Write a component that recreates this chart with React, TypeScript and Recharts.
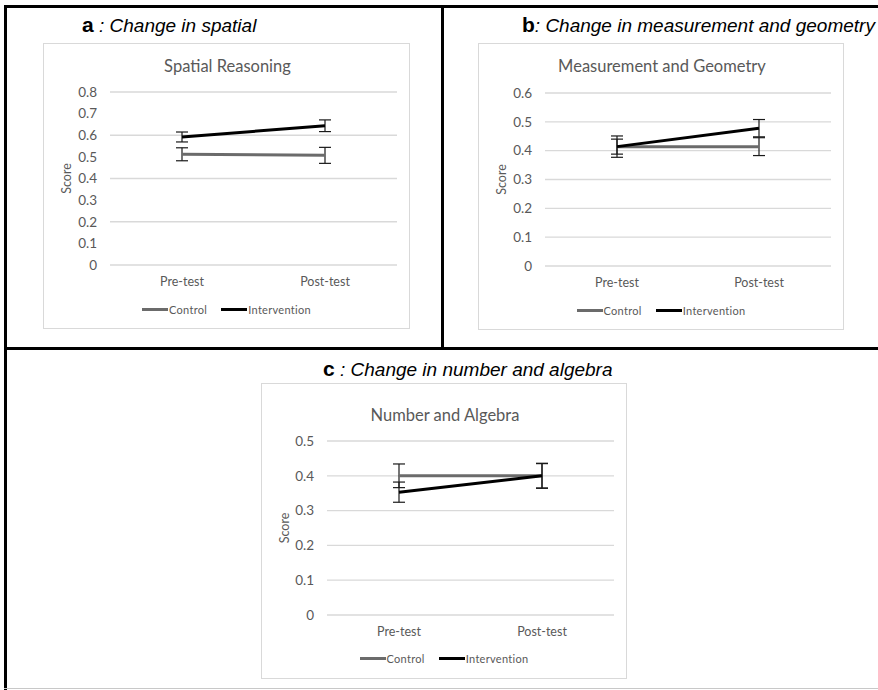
import React from 'react';
import { LineChart, Line, XAxis, YAxis, CartesianGrid, ErrorBar, Legend } from 'recharts';

const categories = ['Pre-test', 'Post-test'];

const spatialControl = [0.512, 0.507];
const spatialControlErr = [0.03, 0.037];
const spatialIntervention = [0.592, 0.644];
const spatialInterventionErr = [0.023, 0.027];
const spatialTicks = [0, 0.1, 0.2, 0.3, 0.4, 0.5, 0.6, 0.7, 0.8];

const measControl = [0.414, 0.414];
const measControlErr = [0.026, 0.031];
const measIntervention = [0.414, 0.478];
const measInterventionErr = [0.037, 0.03];
const measTicks = [0, 0.1, 0.2, 0.3, 0.4, 0.5, 0.6];

const algControl = [0.4, 0.4];
const algControlErr = [0.034, 0.036];
const algIntervention = [0.353, 0.4];
const algInterventionErr = [0.029, 0.035];
const algTicks = [0, 0.1, 0.2, 0.3, 0.4, 0.5];

const seriesNames = ['Control', 'Intervention'];

const GRID = '#d9d9d9';
const TEXT = '#595959';
const CONTROL = '#6b6b6b';
const INTERVENTION = '#000000';
const CHART_FONT = 'Lato, "Open Sans", sans-serif';
const TITLE_FONT = '"Liberation Sans", Arial, sans-serif';

interface Box { left: number; top: number; w: number; h: number; }
interface Plot { left: number; right: number; top: number; bottom: number; }

interface PanelProps {
  letter: string;
  heading: string;
  headingX: number;
  headingY: number;
  chartTitle: string;
  box: Box;
  plot: Plot;
  titleY: number;
  legendY: number;
  ticks: number[];
  control: number[];
  controlErr: number[];
  intervention: number[];
  interventionErr: number[];
}

const LegendContent = () => (
  <div style={{ display: 'flex', justifyContent: 'center', alignItems: 'center', fontFamily: CHART_FONT, fontSize: 11, color: TEXT, letterSpacing: 0.3 }}>
    <span style={{ display: 'inline-block', width: 26, height: 3, background: CONTROL }} />
    <span style={{ marginLeft: 1, marginRight: 14 }}>{seriesNames[0]}</span>
    <span style={{ display: 'inline-block', width: 26, height: 3, background: INTERVENTION }} />
    <span style={{ marginLeft: 1 }}>{seriesNames[1]}</span>
  </div>
);

const Panel: React.FC<PanelProps> = (p) => {
  const data = categories.map((c, i) => ({
    cat: c,
    control: p.control[i],
    controlErr: p.controlErr[i],
    intervention: p.intervention[i],
    interventionErr: p.interventionErr[i],
  }));
  const { box, plot } = p;
  const yAxisW = plot.left - box.left;
  const xAxisH = 30;
  const margin = {
    top: plot.top - box.top,
    right: box.left + box.w - plot.right,
    left: 0,
    bottom: box.top + box.h - plot.bottom - xAxisH,
  };
  const scoreX = box.left + 25;
  const midY = (plot.top + plot.bottom) / 2;

  return (
    <>
      <div style={{ position: 'absolute', left: p.headingX, top: p.headingY - 12, fontFamily: TITLE_FONT, color: '#000', whiteSpace: 'nowrap', lineHeight: '24px' }}>
        <span style={{ fontWeight: 'bold', fontSize: 21 }}>{p.letter}</span>
        <span style={{ fontStyle: 'italic', fontSize: 19 }}>{p.heading}</span>
      </div>
      <div style={{ position: 'absolute', left: box.left, top: box.top, width: box.w, height: box.h, boxSizing: 'border-box', border: `1px solid ${GRID}`, background: '#fff' }}>
        <div style={{ position: 'absolute', left: 0, width: box.w, top: p.titleY - box.top - 11, textAlign: 'center', fontFamily: CHART_FONT, fontSize: 16.5, color: TEXT, lineHeight: '22px' }}>
          {p.chartTitle}
        </div>
        <div style={{ position: 'absolute', left: -1, top: -1 }}>
          <LineChart width={box.w} height={box.h} data={data} margin={margin}>
            <CartesianGrid vertical={false} stroke={GRID} strokeWidth={1.3} />
            <XAxis
              dataKey="cat"
              height={xAxisH}
              axisLine={false}
              tickLine={false}
              tickSize={6}
              tickMargin={6}
              padding={{ left: 72, right: 72 }}
              tick={{ fill: TEXT, fontSize: 12.5, fontFamily: CHART_FONT }}
              interval={0}
            />
            <YAxis
              width={yAxisW}
              domain={[0, p.ticks[p.ticks.length - 1]]}
              ticks={p.ticks}
              axisLine={false}
              tickLine={false}
              tickSize={6}
              tickMargin={7}
              tick={{ fill: TEXT, fontSize: 13.5, fontFamily: CHART_FONT }}
              label={{
                content: () => (
                  <text x={scoreX - box.left} y={midY - box.top} transform={`rotate(-90 ${scoreX - box.left} ${midY - box.top})`} textAnchor="middle" dominantBaseline="middle" fill={TEXT} fontSize={12.5} fontFamily={CHART_FONT}>
                    Score
                  </text>
                ),
              }}
            />
            <Legend
              layout="vertical"
              align="center"
              verticalAlign="middle"
              content={LegendContent}
              wrapperStyle={{ left: 0, width: box.w, top: p.legendY - box.top - 8, height: 16 }}
            />
            <Line name={seriesNames[0]} type="linear" dataKey="control" stroke={CONTROL} strokeWidth={3} dot={false} isAnimationActive={false}>
              <ErrorBar dataKey="controlErr" width={6} strokeWidth={1.2} stroke="#1a1a1a" direction="y" isAnimationActive={false} />
            </Line>
            <Line name={seriesNames[1]} type="linear" dataKey="intervention" stroke={INTERVENTION} strokeWidth={3} dot={false} isAnimationActive={false}>
              <ErrorBar dataKey="interventionErr" width={6} strokeWidth={1.2} stroke="#1a1a1a" direction="y" isAnimationActive={false} />
            </Line>
          </LineChart>
        </div>
      </div>
    </>
  );
};

export default function App() {
  return (
    <div style={{ position: 'absolute', left: 0, top: 0, width: 878, height: 690, background: '#fff', overflow: 'hidden' }}>
      {/* frame lines */}
      <div style={{ position: 'absolute', left: 4, top: 5, width: 880, height: 3, background: '#000' }} />
      <div style={{ position: 'absolute', left: 4, top: 5, width: 3, height: 690, background: '#000' }} />
      <div style={{ position: 'absolute', left: 441, top: 5, width: 2.5, height: 344, background: '#000' }} />
      <div style={{ position: 'absolute', left: 4, top: 347, width: 880, height: 3, background: '#000' }} />
      <div style={{ position: 'absolute', left: 4, top: 688, width: 880, height: 1, background: '#c8c8c8' }} />

      <Panel
        letter="a"
        heading=" : Change in spatial"
        headingX={82}
        headingY={25}
        chartTitle="Spatial Reasoning"
        box={{ left: 43, top: 43, w: 367, h: 286 }}
        plot={{ left: 110, right: 397, top: 92, bottom: 265 }}
        titleY={65}
        legendY={311}
        ticks={spatialTicks}
        control={spatialControl}
        controlErr={spatialControlErr}
        intervention={spatialIntervention}
        interventionErr={spatialInterventionErr}
      />
      <Panel
        letter="b"
        heading=": Change in measurement and geometry"
        headingX={522}
        headingY={25}
        chartTitle="Measurement and Geometry"
        box={{ left: 478, top: 43, w: 366, h: 287 }}
        plot={{ left: 545, right: 831, top: 93, bottom: 266 }}
        titleY={65}
        legendY={312}
        ticks={measTicks}
        control={measControl}
        controlErr={measControlErr}
        intervention={measIntervention}
        interventionErr={measInterventionErr}
      />
      <Panel
        letter="c"
        heading=" : Change in number and algebra"
        headingX={323}
        headingY={369}
        chartTitle="Number and Algebra"
        box={{ left: 261, top: 383, w: 366, h: 296 }}
        plot={{ left: 327, right: 614, top: 441, bottom: 615 }}
        titleY={414}
        legendY={660}
        ticks={algTicks}
        control={algControl}
        controlErr={algControlErr}
        intervention={algIntervention}
        interventionErr={algInterventionErr}
      />
    </div>
  );
}
